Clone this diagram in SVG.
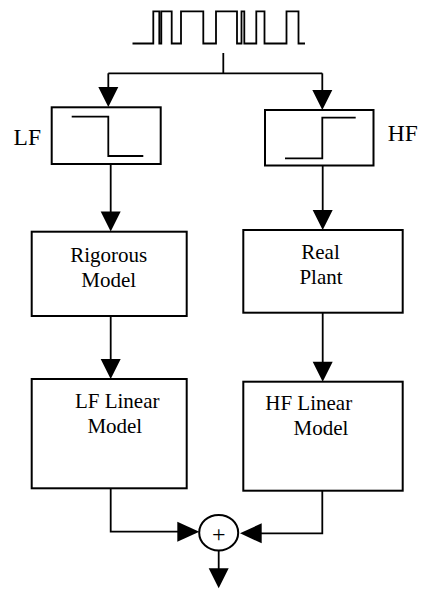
<svg xmlns="http://www.w3.org/2000/svg" width="421" height="591" viewBox="0 0 421 591">
<style>
.box{fill:#fff;stroke:#000;stroke-width:2}
.ln{fill:none;stroke:#000;stroke-width:1.8}
.ah{fill:#000;stroke:none}
.t{font-family:"Liberation Serif","Times New Roman",serif;font-size:21px;fill:#000;text-anchor:middle}
.lbl{font-family:"Liberation Serif","Times New Roman",serif;font-size:23.5px;fill:#000}
</style>
<defs>
<path id="ad" d="M-10,-20 L10,-20 L0,0 Z"/>
</defs>
<rect width="421" height="591" fill="#fff"/>
<g id="signal">
<path class="ln" d="M132.5,43.5 H153.3 V11.3 H159.3 V43.5 H161.3 V11.3 H171.7 V43.5 H181 V11.3 H203.3 V43.5 H216 V11.3 H237 V43.5 H241.5 V11.3 H244.3 V43.5 H256.3 V11.3 H264.5 V43.5 H286.5 V11.3 H298.5 V43.5 H305"/>
</g>
<g id="lf-filter">
<rect class="box" x="51.7" y="107.3" width="109" height="56.7"/>
<path class="ln" d="M71.7,116.7 H108.3 V156 H143.3"/>
<text class="lbl" x="41" y="145" text-anchor="end">LF</text>
</g>
<g id="hf-filter">
<rect class="box" x="265" y="110" width="108.5" height="55.5"/>
<path class="ln" d="M285,158.3 H322.3 V117.7 H355.7"/>
<text class="lbl" x="387.7" y="140.7">HF</text>
</g>
<g id="rigorous">
<rect class="box" x="31.7" y="231.7" width="155" height="84.3"/>
<text class="t" x="108.7" y="261.7">Rigorous</text>
<text class="t" x="108.7" y="286.7">Model</text>
</g>
<g id="plant">
<rect class="box" x="243.3" y="230" width="159.4" height="82.7"/>
<text class="t" x="320.5" y="259.3">Real</text>
<text class="t" x="321" y="284.3">Plant</text>
</g>
<g id="lf-linear">
<rect class="box" x="31.7" y="379" width="155" height="109.3"/>
<text class="t" x="117.2" y="408.3">LF Linear</text>
<text class="t" x="114.8" y="433.3">Model</text>
</g>
<g id="hf-linear">
<rect class="box" x="243.3" y="381.7" width="159.4" height="109"/>
<text class="t" x="308.7" y="410">HF Linear</text>
<text class="t" x="321" y="435">Model</text>
</g>
<g id="sum">
<ellipse cx="218.7" cy="532.7" rx="19.5" ry="17.8" fill="#fff" stroke="#000" stroke-width="2"/>
<text x="218.7" y="542" font-family="Liberation Serif, serif" font-size="24" text-anchor="middle">+</text>
</g>
<g id="connectors">
<path class="ln" d="M223.3,53 V73.3"/>
<path class="ln" d="M108.3,73.3 H322.3"/>
<path class="ln" d="M108.3,73.3 V90"/>
<use href="#ad" class="ah" x="108.3" y="107"/>
<path class="ln" d="M322.3,73.3 V92"/>
<use href="#ad" class="ah" x="322.3" y="110"/>
<path class="ln" d="M110.7,164 V212"/>
<use href="#ad" class="ah" x="110.7" y="231.5"/>
<path class="ln" d="M322.7,165.5 V211"/>
<use href="#ad" class="ah" x="322.7" y="230"/>
<path class="ln" d="M110.7,316 V360"/>
<use href="#ad" class="ah" x="110.7" y="379"/>
<path class="ln" d="M322.7,312.7 V363"/>
<use href="#ad" class="ah" x="322.7" y="381.7"/>
<path class="ln" d="M110.7,488.3 V531.7 H180"/>
<path class="ah" d="M177.3,521.7 L199.3,531.7 L177.3,541.7 Z"/>
<path class="ln" d="M322.3,490.7 V533.3 H259"/>
<path class="ah" d="M261.7,523.3 L240,533.3 L261.7,543.3 Z"/>
<path class="ln" d="M218.7,550.5 V570"/>
<use href="#ad" class="ah" x="218.7" y="588.3"/>
</g>
</svg>
